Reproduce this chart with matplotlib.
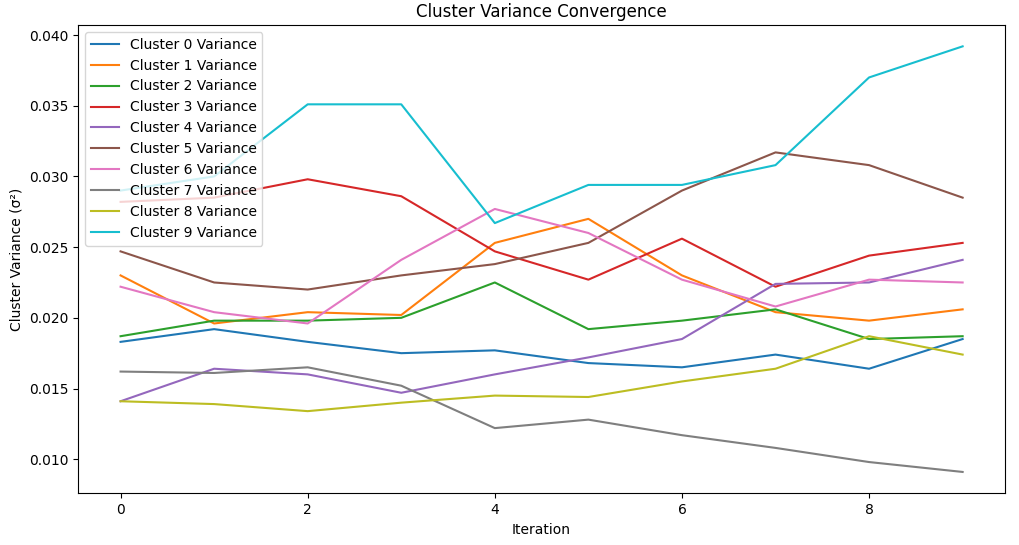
import matplotlib
matplotlib.use("Agg")
import matplotlib.pyplot as plt

iterations = list(range(10))
c0 = [0.0183,0.0192,0.0183,0.0175,0.0177,0.0168,0.0165,0.0174,0.0164,0.0185]
c1 = [0.0230,0.0196,0.0204,0.0202,0.0253,0.0270,0.0230,0.0204,0.0198,0.0206]
c2 = [0.0187,0.0198,0.0198,0.0200,0.0225,0.0192,0.0198,0.0206,0.0185,0.0187]
c3 = [0.0282,0.0285,0.0298,0.0286,0.0247,0.0227,0.0256,0.0222,0.0244,0.0253]
c4 = [0.0141,0.0164,0.0160,0.0147,0.0160,0.0172,0.0185,0.0224,0.0225,0.0241]
c5 = [0.0247,0.0225,0.0220,0.0230,0.0238,0.0253,0.0290,0.0317,0.0308,0.0285]
c6 = [0.0222,0.0204,0.0196,0.0241,0.0277,0.0260,0.0227,0.0208,0.0227,0.0225]
c7 = [0.0162,0.0161,0.0165,0.0152,0.0122,0.0128,0.0117,0.0108,0.0098,0.0091]
c8 = [0.0141,0.0139,0.0134,0.0140,0.0145,0.0144,0.0155,0.0164,0.0187,0.0174]
c9 = [0.0290,0.0300,0.0351,0.0351,0.0267,0.0294,0.0294,0.0308,0.0370,0.0392]
series = [c0,c1,c2,c3,c4,c5,c6,c7,c8,c9]

fig, ax = plt.subplots(figsize=(10.19,5.45), dpi=100)
fig.subplots_adjust(left=0.077, right=0.986, top=0.954, bottom=0.095)
for i, s in enumerate(series):
    ax.plot(iterations, s, label=f"Cluster {i} Variance")
ax.set_title("Cluster Variance Convergence")
ax.set_xlabel("Iteration")
ax.set_ylabel("Cluster Variance (σ²)")
ax.legend(loc="upper left")
fig.savefig("out.png")
